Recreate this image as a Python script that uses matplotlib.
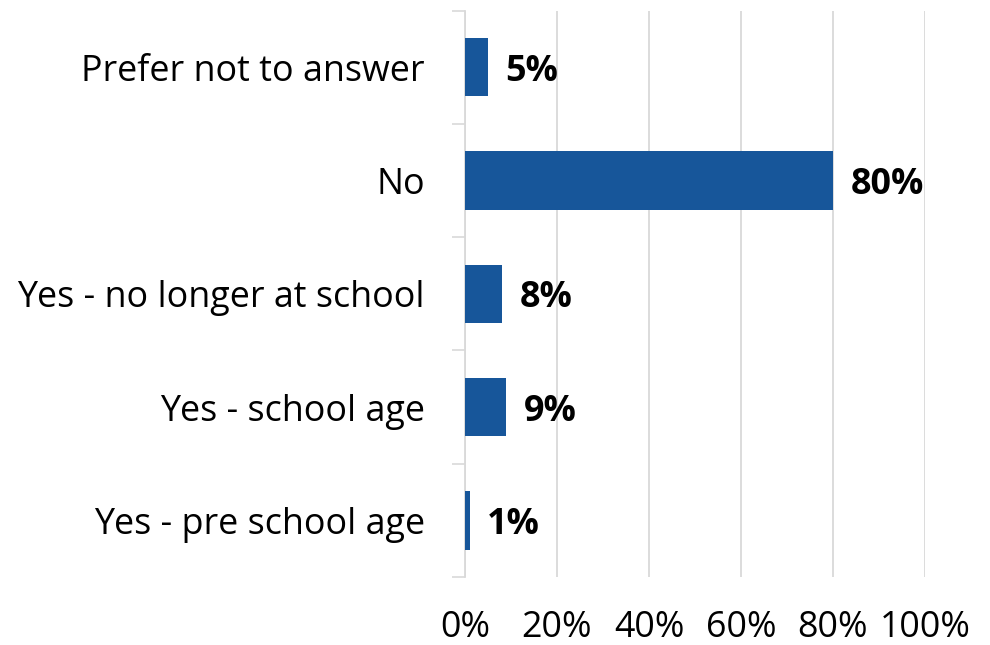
import matplotlib.pyplot as plt
from matplotlib.ticker import FixedLocator

categories = ["Yes - pre school age", "Yes - school age", "Yes - no longer at school",
              "No", "Prefer not to answer"]
percent = [1, 9, 8, 80, 5]
x_ticks = [0, 20, 40, 60, 80, 100]

plt.rcParams['font.family'] = ['Open Sans', 'DejaVu Sans']
FS = 25.8

fig = plt.figure(figsize=(9.9, 6.45), dpi=100)
ax = fig.add_axes([0.4697, 0.1054, 0.4646, 0.8783])

pos = list(range(len(categories)))
bars = ax.barh(pos, percent, height=0.515, color="#17569A", zorder=3)

# value labels just right of each bar
for b, v in zip(bars, percent):
    ax.text(b.get_width() + 3.8, b.get_y() + b.get_height() / 2, f"{v}%",
            va="center_baseline", ha="left", fontsize=FS, fontweight="bold", color="black")

ax.set_xlim(0, 100)
ax.set_ylim(-0.5, len(categories) - 0.5)
ax.set_xticks(x_ticks)
ax.set_xticklabels([f"{t}%" for t in x_ticks], fontsize=FS)
ax.set_yticks(pos)
ax.set_yticklabels(categories, fontsize=FS)
ax.yaxis.set_minor_locator(FixedLocator([p + 0.5 for p in range(-1, len(categories))]))

ax.tick_params(axis="x", length=0, pad=24)
ax.tick_params(axis="y", which="major", length=0, pad=29)
ax.tick_params(axis="y", which="minor", length=9.4, width=1.2, color="#D9D9D9")

ax.grid(axis="x", color="#D9D9D9", linewidth=1.3, zorder=0)
for s in ["top", "right", "bottom"]:
    ax.spines[s].set_visible(False)
ax.spines["left"].set_color("#D9D9D9")
ax.spines["left"].set_linewidth(1.3)

fig.savefig("out.png", dpi=100)
